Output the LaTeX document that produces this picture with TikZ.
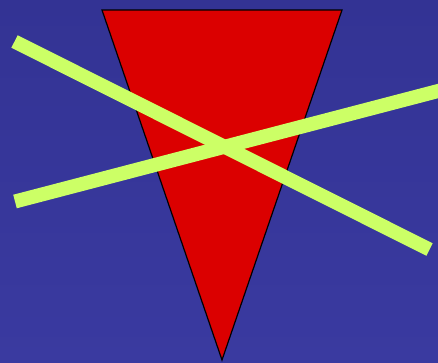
\documentclass[tikz,border=0pt]{standalone}
\usepackage{tikz}
\usetikzlibrary{calc}
\usepackage{xcolor}
\definecolor{bgtop}{HTML}{333394}
\definecolor{bgbot}{HTML}{3A3AA0}
\definecolor{trired}{HTML}{DB0000}
\definecolor{barlime}{HTML}{CCFF66}
\tikzset{
  scbg/.style={top color=bgtop, bottom color=bgbot, draw=none},
  sctri/.style={fill=trired, draw=black, line width=1.2pt, line join=miter},
  scbar/.style={draw=barlime, line width=14pt, line cap=butt},
}
\begin{document}
\begin{tikzpicture}[x=1pt,y=-1pt]
  % background and frame of the picture
  \fill[scbg] (0,0) rectangle (438,362);
  \useasboundingbox (0,0) rectangle (438,362);

  % inverted triangle
  \coordinate (tl) at (102,10);
  \coordinate (tr) at (342,10);
  \coordinate (tip) at (222,360);
  \draw[sctri] (tl) -- (tr) -- (tip) -- cycle;

  % crossing bars
  \coordinate (a1) at (14.5,41.5);
  \coordinate (a2) at (429.5,249.5);
  \coordinate (b1) at (15,201.5);
  \coordinate (b2) at (445,89.2);
  \draw[scbar] (a1) -- (a2);
  \draw[scbar] (b1) -- (b2);
\end{tikzpicture}
\end{document}
